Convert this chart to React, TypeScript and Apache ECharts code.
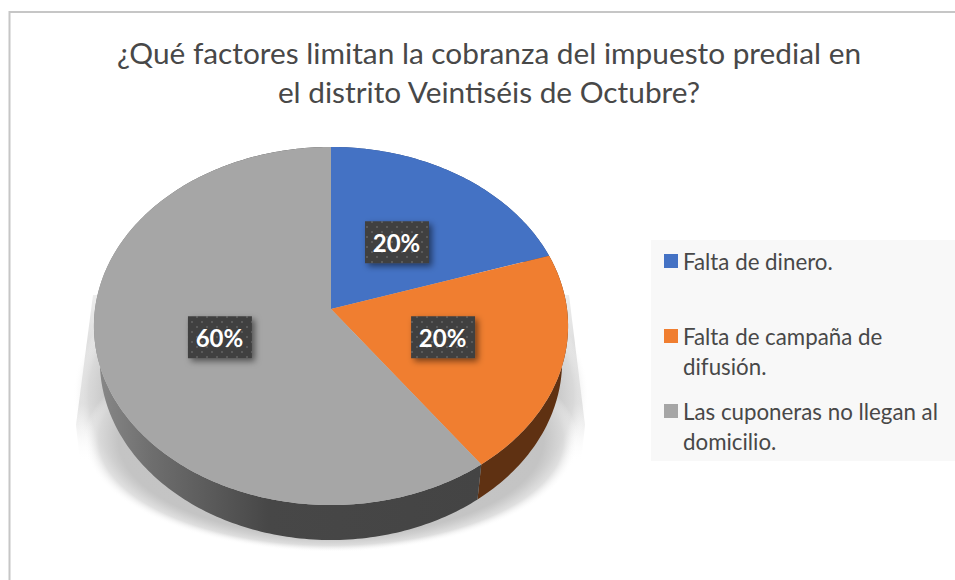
import React, { useEffect, useRef } from "react";
import * as echarts from "echarts";

const titleText = "¿Qué factores limitan la cobranza del impuesto predial en\nel distrito Veintiséis de Octubre?";
const categories = ["Falta de dinero.", "Falta de campaña de\ndifusión.", "Las cuponeras no llegan al\ndomicilio."];
const values = [20, 20, 60];
const colors = ["#4472c4", "#f07e30", "#a6a6a6"];
const wallColors = ["#2a4478", "#5f3112", "#444444"];

const FONT = "Lato, Carlito, sans-serif";
const CX = 331, CY = 309, RX = 236, RY = 177.4, K = 0.095, DEPTH = 35, WALL_SHRINK = 0.975;
const TOTAL = values.reduce((a, b) => a + b, 0);

function project(angle: number, t = 1): [number, number] {
  const X = Math.sin(angle) * t;
  const Y = -Math.cos(angle) * t;
  const w = 1 - K * Y;
  return [CX + (RX * X) / w, CY + (RY * Y) / w];
}
function range(index: number): [number, number] {
  let s = 0;
  for (let i = 0; i < index; i++) s += values[i];
  return [(s / TOTAL) * Math.PI * 2, ((s + values[index]) / TOTAL) * Math.PI * 2];
}
function arc(a0: number, a1: number): [number, number][] {
  const n = Math.max(2, Math.ceil(((a1 - a0) / (Math.PI * 2)) * 360));
  const pts: [number, number][] = [];
  for (let i = 0; i <= n; i++) pts.push(project(a0 + ((a1 - a0) * i) / n));
  return pts;
}

function makePattern() {
  const c = document.createElement("canvas");
  c.width = 10; c.height = 10;
  const g = c.getContext("2d")!;
  g.fillStyle = "#404040";
  g.fillRect(0, 0, 10, 10);
  g.fillStyle = "#5a5a5a";
  g.fillRect(1, 1, 2, 2);
  g.fillRect(6, 6, 2, 2);
  return c;
}

const sideShadowFill = () =>
  new echarts.graphic.LinearGradient(0, 0, 0, 1, [
    { offset: 0, color: "#eeeeee" },
    { offset: 0.3, color: "#dedede" },
    { offset: 0.65, color: "#dadada" },
    { offset: 1, color: "rgba(255,255,255,0)" },
  ]);

const softShadowFill = () =>
  new echarts.graphic.RadialGradient(0.5, 0.5, 0.5, [
    { offset: 0, color: "#c0c0c0" },
    { offset: 0.86, color: "#c4c4c4" },
    { offset: 0.94, color: "rgba(216,216,216,0.8)" },
    { offset: 1, color: "rgba(255,255,255,0)" },
  ]);

export default function App() {
  const ref = useRef<HTMLDivElement>(null);
  useEffect(() => {
    const chart = echarts.init(ref.current!, null, { renderer: "svg", width: 955, height: 580 });
    const pattern = makePattern();
    const faceSeries = categories.map((name, idx) => ({
      type: "custom",
      name,
      coordinateSystem: "none",
      z: 5,
      itemStyle: { color: colors[idx] },
      data: [values[idx]],
      renderItem: () => {
        const [a0, a1] = range(idx);
        const [lx, ly0] = project((a0 + a1) / 2, 0.49);
        const ly = ly0 + 1;
        const pct = Math.round((values[idx] / TOTAL) * 100) + "%";
        return {
          type: "group",
          children: [
            { type: "polygon", shape: { points: [[CX, CY], ...arc(a0, a1)] }, style: { fill: colors[idx] } },
            {
              type: "rect",
              shape: { x: lx - 31.5, y: ly - 21, width: 64, height: 42 },
              style: {
                fill: { image: pattern, repeat: "repeat" },
                shadowBlur: 6, shadowColor: "rgba(0,0,0,0.5)", shadowOffsetX: 3, shadowOffsetY: 3,
              },
            },
            {
              type: "text",
              style: {
                x: lx, y: ly, text: pct, align: "center", verticalAlign: "middle",
                fill: "#ffffff", font: `bold 24px ${FONT}`,
              },
            },
          ],
        };
      },
    }));
    const wallSeries = {
      type: "custom",
      name: "pared",
      coordinateSystem: "none",
      z: 3,
      silent: true,
      data: values,
      renderItem: (p: any) => {
        const idx = p.dataIndex;
        const [a0, a1] = range(idx);
        const top = arc(a0, a1);
        const bottom = top.map(([x, y]) => [CX + (x - CX) * WALL_SHRINK, y + DEPTH]).reverse();
        const fill =
          idx === 2
            ? new echarts.graphic.LinearGradient(0, 0, 1, 0, [
                { offset: 0, color: "#8a8a8a" },
                { offset: 0.15, color: "#6e6e6e" },
                { offset: 0.45, color: "#474747" },
                { offset: 1, color: "#444444" },
              ])
            : wallColors[idx];
        return { type: "polygon", shape: { points: [...top, ...bottom] }, style: { fill } };
      },
    };
    chart.setOption({
      animation: false,
      backgroundColor: "#ffffff",
      title: {
        text: titleText,
        left: 484, top: 28, textAlign: "center",
        textStyle: { fontFamily: FONT, fontWeight: "normal", fontSize: 29.8, lineHeight: 39, color: "#484848" },
      },
      legend: {
        orient: "vertical",
        left: 651, top: 240,
        padding: [6, 17, 5, 13],
        backgroundColor: "#f8f8f8",
        itemWidth: 14, itemHeight: 60, itemGap: 15,
        data: categories.map((name) => ({ name, icon: "path://M0 0H0V0ZM0 8H14V22H0ZM14 60H14V60Z" })),
        formatter: (n: string) => (n.includes("\n") ? n : n + "\n "),
        textStyle: { fontFamily: FONT, fontSize: 22.3, lineHeight: 30, color: "#484848" },
      },
      graphic: [
        {
          type: "rect", z: -3,
          shape: { x: 9.5, y: 12, width: 960, height: 580 },
          style: { fill: "none", stroke: "#c6c6c6", lineWidth: 2 },
        },
        {
          type: "polygon", z: -2,
          shape: { points: [[93, 295], [76, 425], [80, 462], [120, 462], [120, 295]] },
          style: { fill: sideShadowFill() },
        },
        {
          type: "polygon", z: -2,
          shape: { points: [[569, 295], [585, 425], [581, 462], [540, 462], [540, 295]] },
          style: { fill: sideShadowFill() },
        },
        {
          type: "rect", z: -1,
          shape: { x: 73, y: 237, width: 516, height: 315 },
          style: { fill: softShadowFill() },
        },
        {
          type: "rect", z: -1,
          shape: { x: 84, y: 328, width: 494, height: 224 },
          style: { fill: softShadowFill() },
        },
      ],
      series: [wallSeries, ...faceSeries],
    });
    return () => chart.dispose();
  }, []);
  return <div ref={ref} style={{ position: "absolute", left: 0, top: 0, width: 955, height: 580 }} />;
}
